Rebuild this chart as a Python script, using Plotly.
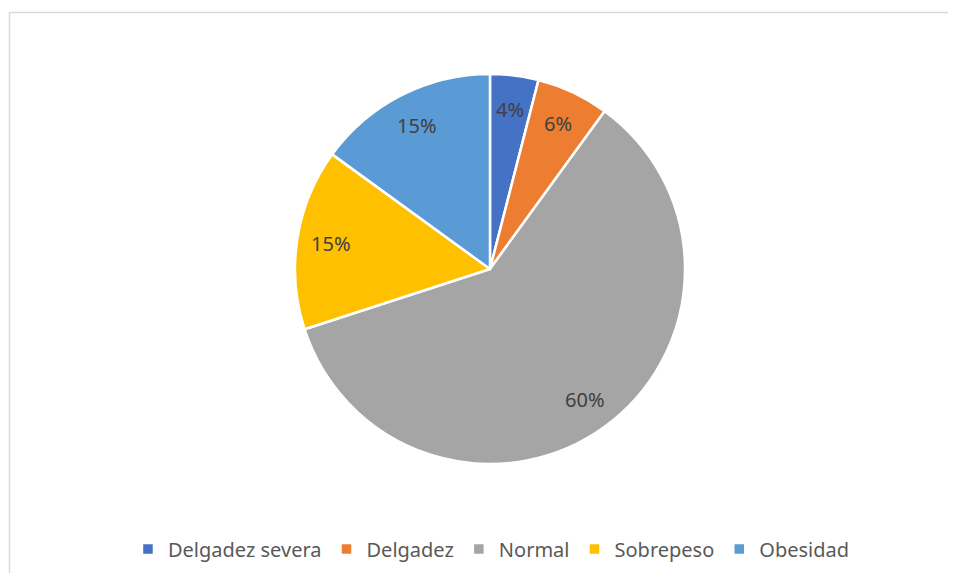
import math
import plotly.graph_objects as go

categories = ["Delgadez severa", "Delgadez", "Normal", "Sobrepeso", "Obesidad"]
values = [4, 6, 60, 15, 15]
colors = ["#4472C4", "#ED7D31", "#A5A5A5", "#FFC000", "#5B9BD5"]

# the page body has an 8px margin, so keep the figure inside the window
W, H = 948, 565
cx, cy, R = 482, 261, 195  # pie centre / radius in figure px

fig = go.Figure()
fig.add_trace(go.Pie(
    labels=categories,
    values=values,
    sort=False,
    direction="clockwise",
    rotation=0,
    marker=dict(colors=colors, line=dict(color="white", width=2.5)),
    textinfo="none",
    hoverinfo="label+percent",
    domain=dict(x=[(cx - R) / W, (cx + R) / W], y=[1 - (cy + R) / H, 1 - (cy - R) / H]),
))

# data labels placed like Excel's "best fit" (a bit inside the rim)
total = sum(values)
cum = 0
annotations = []
for v in values:
    mid = (cum + v / 2) / total * 2 * math.pi
    cum += v
    px = cx + 0.825 * R * math.sin(mid)
    py = cy - 0.825 * R * math.cos(mid)
    annotations.append(dict(
        x=px / W, y=1 - py / H, xref="paper", yref="paper",
        xanchor="center", yanchor="middle",
        text=f"{round(v / total * 100)}%", showarrow=False,
        font=dict(size=20, color="#404040"),
    ))

fig.update_layout(
    width=W, height=H,
    margin=dict(l=0, r=0, t=0, b=0),
    paper_bgcolor="white",
    plot_bgcolor="white",
    font=dict(family="Noto Sans", size=20, color="#595959"),
    annotations=annotations,
    legend=dict(orientation="h", x=0.51, xanchor="center", y=1 - 541 / H, yanchor="middle",
                font=dict(size=20, color="#595959")),
    shapes=[
        dict(type="line", xref="paper", yref="paper", x0=1.5 / W, x1=1, y0=1 - 4.5 / H, y1=1 - 4.5 / H,
             line=dict(color="#D9D9D9", width=1.5)),
        dict(type="line", xref="paper", yref="paper", x0=1.5 / W, x1=1.5 / W, y0=0, y1=1 - 4.5 / H,
             line=dict(color="#D9D9D9", width=1.5)),
    ],
)

fig.write_html("out.html")
